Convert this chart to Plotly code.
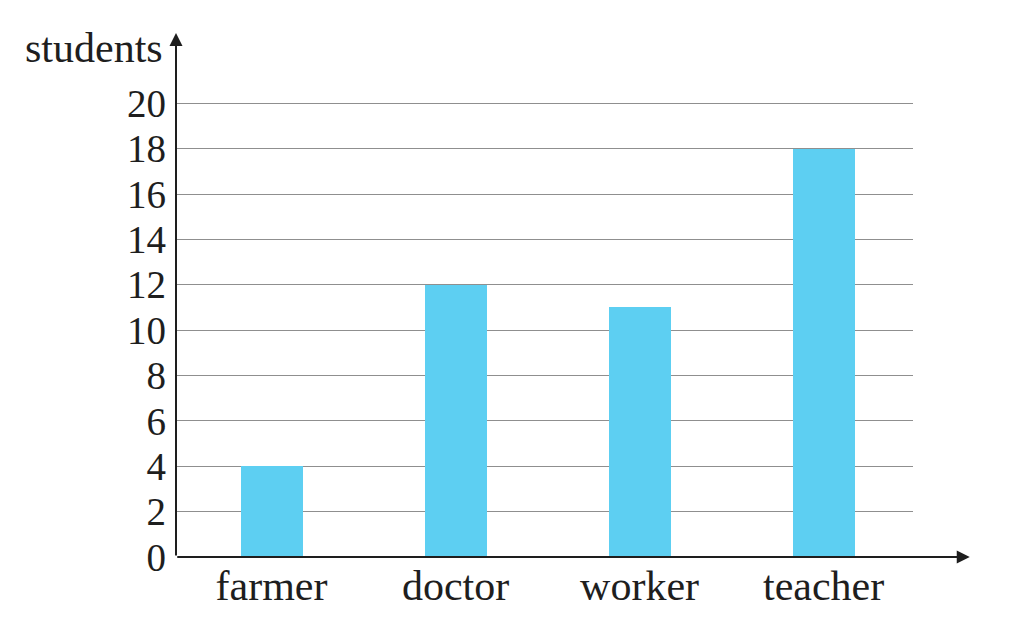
import plotly.graph_objects as go

categories = ["farmer", "doctor", "worker", "teacher"]
students = [4, 12, 11, 18]
y_ticks = list(range(0, 21, 2))

font_family = "Liberation Serif, Times New Roman, serif"

fig = go.Figure()
fig.add_trace(go.Bar(
    x=categories, y=students,
    marker=dict(color="#5DCFF2", line=dict(width=0)),
    width=0.337,
))

fig.update_layout(
    width=1009, height=621,
    margin=dict(l=168, r=104, t=25, b=72),
    paper_bgcolor="white", plot_bgcolor="white",
    showlegend=False,
    font=dict(family=font_family, size=38, color="#1e1e1e"),
    bargap=0,
)
fig.update_xaxes(
    type="category", range=[-0.519, 3.486],
    showgrid=False, showline=False, zeroline=False,
    ticks="", ticklabelstandoff=0,
    tickfont=dict(size=42, family=font_family, color="#1e1e1e"),
)
fig.update_yaxes(
    range=[0, 23.1], tickvals=y_ticks, ticktext=[str(v) for v in y_ticks],
    showgrid=True, gridcolor="#8f8f8f", gridwidth=1,
    showline=False, zeroline=False, ticks="", ticklabelstandoff=9,
    tickfont=dict(size=39, family=font_family, color="#1e1e1e"),
)

# y axis with arrow
fig.add_annotation(
    xref="x domain", yref="y domain", x=0, y=1, ax=0, ay=524,
    axref="pixel", ayref="pixel", text="", showarrow=True,
    arrowhead=2, arrowsize=1.3, arrowwidth=2, arrowcolor="#1e1e1e",
)
# x axis with arrow
fig.add_annotation(
    xref="x domain", yref="y domain", x=1.077, y=0, ax=-794, ay=0,
    axref="pixel", ayref="pixel", text="", showarrow=True,
    arrowhead=2, arrowsize=1.3, arrowwidth=2, arrowcolor="#1e1e1e",
)
# y axis title
fig.add_annotation(
    xref="paper", yref="paper", x=-0.015, y=1.0, xanchor="right", yanchor="middle",
    text="students", showarrow=False,
    font=dict(size=42, family=font_family, color="#1e1e1e"), yshift=-15,
)

fig.write_html("out.html")
